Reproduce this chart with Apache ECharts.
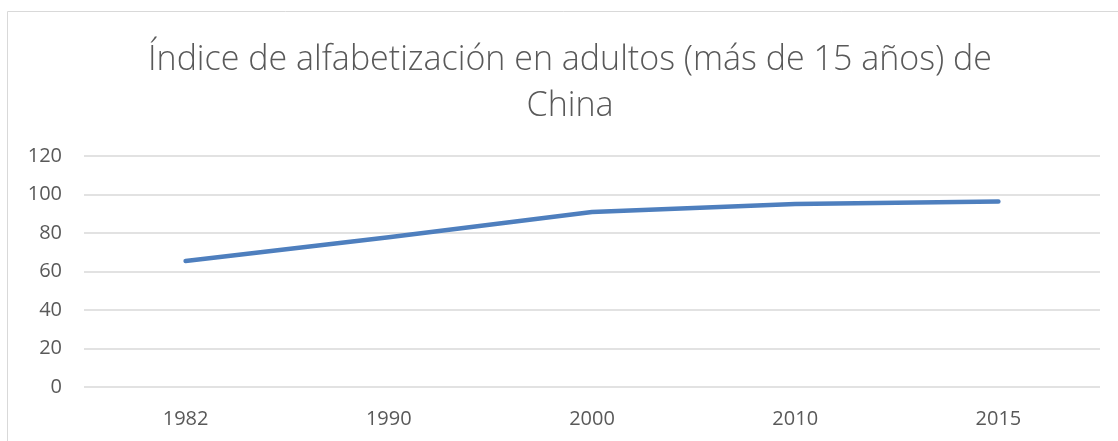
<!DOCTYPE html>
<html>
<head>
<meta charset="utf-8">
<script src="https://cdn.jsdelivr.net/npm/echarts@6/dist/echarts.min.js"></script>
<style>
	html, body { margin: 0; padding: 0; background: #fff; }
	#literacyChart { width: 1118px; height: 441px; }
</style>
</head>
<body>
<div id="literacyChart"></div>
<script>
const years = ["1982", "1990", "2000", "2010", "2015"];
const literacyRate = [65.5, 77.8, 90.9, 95.1, 96.4];
const yTicks = { min: 0, max: 120, step: 20 };

const chart = echarts.init(document.getElementById("literacyChart"));
chart.setOption({
	animation: false,
	graphic: [
		{
			type: "rect",
			shape: { x: 7.5, y: 11.5, width: 1300, height: 600 },
			style: { fill: "none", stroke: "#d9d9d9", lineWidth: 1 },
			silent: true
		}
	],
	title: {
		text: "Índice de alfabetización en adultos (más de 15 años) de\nChina",
		left: 565,
		textAlign: "center",
		top: 32,
		textStyle: {
			fontFamily: "Open Sans",
			fontWeight: 300,
			fontSize: 34,
			lineHeight: 46,
			color: "#595959"
		}
	},
	grid: {
		top: 156,
		left: 84,
		right: 18,
		bottom: 54
	},
	xAxis: {
		type: "category",
		data: years,
		axisLine: { show: false },
		axisTick: { show: false },
		axisLabel: {
			margin: 22,
			fontFamily: "Open Sans",
			fontSize: 20,
			color: "#595959"
		}
	},
	yAxis: {
		type: "value",
		min: yTicks.min,
		max: yTicks.max,
		interval: yTicks.step,
		axisLine: { show: false },
		axisTick: { show: false },
		axisLabel: {
			margin: 22,
			fontFamily: "Open Sans",
			fontSize: 20,
			color: "#595959"
		},
		splitLine: {
			lineStyle: { color: "#d9d9d9", width: 1.5 }
		}
	},
	series: [
		{
			type: "line",
			data: literacyRate,
			showSymbol: false,
			lineStyle: {
				color: "#4e7fbe",
				width: 4.5,
				cap: "round",
				join: "round"
			}
		}
	]
});
</script>
</body>
</html>
